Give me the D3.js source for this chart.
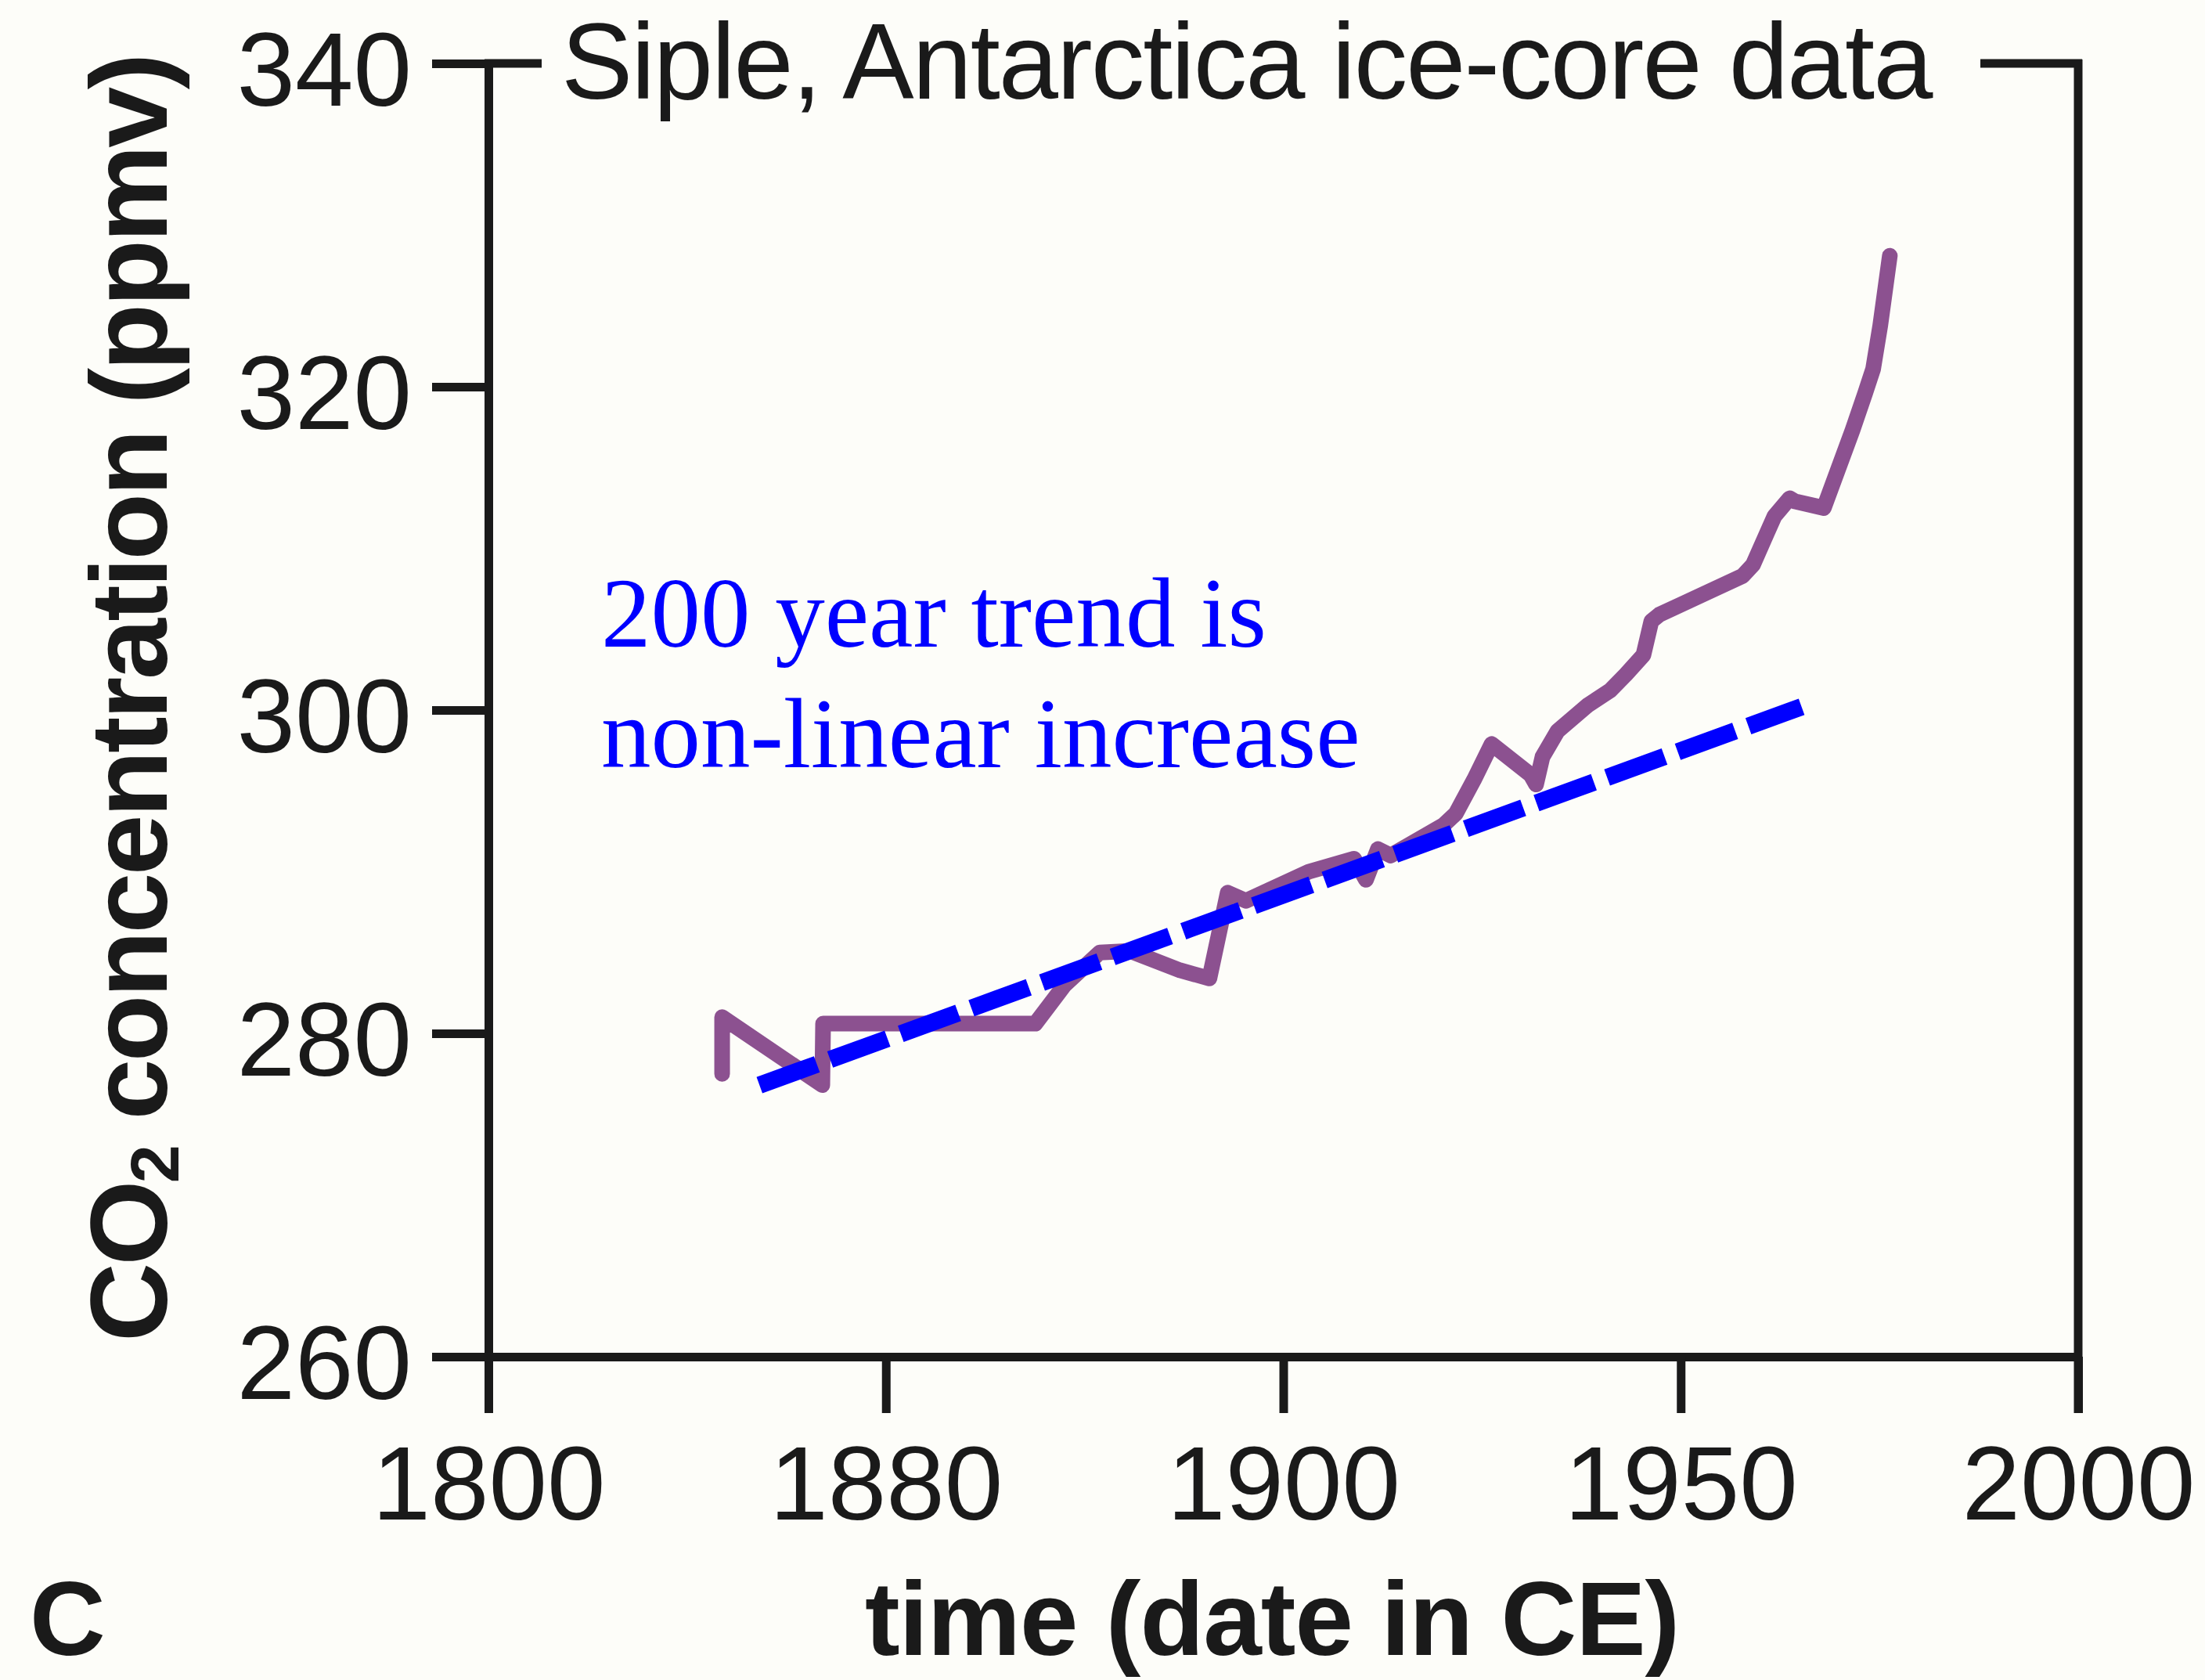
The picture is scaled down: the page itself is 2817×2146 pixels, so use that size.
<!DOCTYPE html>
<html>
<head>
<meta charset="utf-8">
<script src="https://cdn.jsdelivr.net/npm/d3@7"></script>
<style>
  html, body { margin: 0; padding: 0; background: #fdfdf9; }
  svg { display: block; }
</style>
</head>
<body>
<svg id="chart" width="2817" height="2146"></svg>
<script>
// ---- data ----
const years = [1829.4, 1829.4, 1842.0, 1842.1, 1868.8, 1872.5, 1876.9, 1880.7, 1887.0, 1890.7,
  1893.0, 1895.3, 1903.2, 1908.9, 1910.4, 1911.9, 1913.5, 1920.2, 1921.7, 1924.0,
  1926.2, 1931.1, 1931.8, 1932.6, 1934.5, 1938.3, 1941.1, 1943.1, 1945.3, 1946.3,
  1947.3, 1957.8, 1959.1, 1960.8, 1961.8, 1963.7, 1964.4, 1968.0, 1971.6, 1973.2,
  1974.2, 1975.1, 1976.3];
const co2 = [277.5, 281.0, 276.8, 280.6, 280.6, 283.0, 285.0, 285.1, 283.9, 283.4,
  288.7, 288.2, 290.0, 290.8, 289.5, 291.4, 291.0, 292.9, 293.6, 295.7,
  297.9, 296.0, 295.4, 297.1, 298.7, 300.3, 301.2, 302.2, 303.4, 305.5,
  305.9, 308.3, 309.0, 310.9, 312.0, 313.1, 312.9, 312.5, 317.3, 319.6,
  321.1, 323.8, 328.1];
const trendYears = [1834.1, 1965.2];
const trendValues = [276.8, 300.2];
const xTickValues = [1800, 1850, 1900, 1950, 2000];
const xTickLabels = ["1800", "1880", "1900", "1950", "2000"];
const yTickValues = [260, 280, 300, 320, 340];
const titleText = "Siple, Antarctica ice-core data";
const xTitle = "time (date in CE)";
const annotationLines = ["200 year trend is", "non-linear increase"];
const panelLabel = "C";

// ---- layout ----
const svg = d3.select("#chart");
const pLeft = 624, pRight = 2655, pTop = 81, pBottom = 1733;
const x = d3.scaleLinear().domain([1800, 2000]).range([pLeft, pRight]);
const y = d3.scaleLinear().domain([260, 340]).range([pBottom, pTop]);
const ink = "#1a1a1a";
const sans = "'Liberation Sans', Arial, Helvetica, sans-serif";
const serif = "'Liberation Serif', 'Times New Roman', serif";

// y axis
const gy = svg.append("g").attr("transform", `translate(${pLeft},0)`)
  .call(d3.axisLeft(y).tickValues(yTickValues).tickSize(72).tickSizeOuter(0).tickPadding(26));
gy.select(".domain").attr("stroke", ink).attr("stroke-width", 11);
gy.selectAll(".tick line").attr("stroke", ink).attr("stroke-width", 11);
gy.selectAll(".tick text").attr("fill", ink).attr("font-family", sans)
  .attr("font-size", 134).attr("dy", "0.4em");

// x axis
const gx = svg.append("g").attr("transform", `translate(0,${pBottom})`)
  .call(d3.axisBottom(x).tickValues(xTickValues).tickSize(72).tickSizeOuter(0)
    .tickFormat((d, i) => xTickLabels[i]));
gx.select(".domain").attr("stroke", ink).attr("stroke-width", 11);
gx.selectAll(".tick line").attr("stroke", ink).attr("stroke-width", 11);
gx.selectAll(".tick text").attr("fill", ink).attr("font-family", sans)
  .attr("font-size", 134).attr("y", 208).attr("dy", 0);

// frame: top and right
svg.append("line").attr("x1", pLeft - 5).attr("x2", 692).attr("y1", pTop).attr("y2", pTop)
  .attr("stroke", ink).attr("stroke-width", 11);
svg.append("line").attr("x1", 2530).attr("x2", pRight + 5).attr("y1", pTop).attr("y2", pTop)
  .attr("stroke", ink).attr("stroke-width", 11);
svg.append("line").attr("x1", pRight).attr("x2", pRight).attr("y1", pTop - 5).attr("y2", pBottom + 72)
  .attr("stroke", ink).attr("stroke-width", 11);

// title
svg.append("text").attr("x", 717).attr("y", 126)
  .attr("font-family", sans).attr("font-size", 137).attr("fill", ink)
  .attr("letter-spacing", -2.0)
  .text(titleText);

// data line
const line = d3.line().x((d, i) => x(years[i])).y((d, i) => y(co2[i]));
svg.append("path").datum(co2).attr("d", line)
  .attr("fill", "none").attr("stroke", "#8c5190").attr("stroke-width", 20)
  .attr("stroke-linejoin", "round").attr("stroke-linecap", "round");

// trend line
const tline = d3.line().x((d, i) => x(trendYears[i])).y((d, i) => y(trendValues[i]));
svg.append("path").datum(trendValues).attr("d", tline)
  .attr("fill", "none").attr("stroke", "#0000ff").attr("stroke-width", 22)
  .attr("stroke-dasharray", "78,18");

// annotation
svg.append("text").attr("font-family", serif).attr("font-size", 127).attr("fill", "#0000ff")
  .selectAll("tspan").data(annotationLines).join("tspan")
  .attr("x", 768).attr("y", (d, i) => 826 + i * 154).text(d => d);

// y axis title
const yt = svg.append("text")
  .attr("transform", "translate(213,1714) rotate(-90)")
  .attr("font-family", sans).attr("font-weight", "bold").attr("font-size", 140).attr("fill", ink)
  .attr("letter-spacing", -3.6);
yt.append("tspan").text("CO");
yt.append("tspan").attr("font-size", 88).attr("dy", 15).text("2");
yt.append("tspan").attr("dy", -15).text(" concentration (ppmv)");

// x axis title
svg.append("text").attr("x", 1105).attr("y", 2114)
  .attr("font-family", sans).attr("font-weight", "bold").attr("font-size", 134).attr("fill", ink)
  .attr("letter-spacing", -1.0)
  .text(xTitle);

// panel label
svg.append("text").attr("x", 38).attr("y", 2114)
  .attr("font-family", sans).attr("font-weight", "bold").attr("font-size", 134).attr("fill", ink)
  .text(panelLabel);
</script>
</body>
</html>
